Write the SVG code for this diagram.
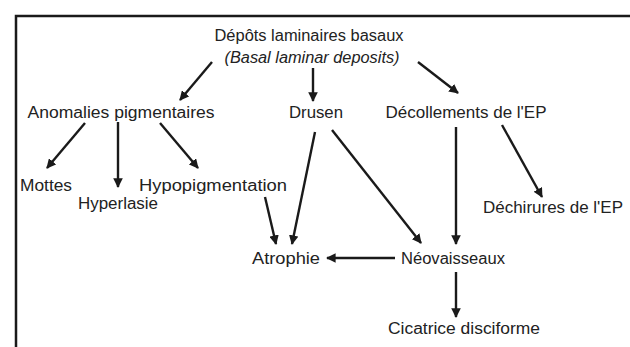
<svg xmlns="http://www.w3.org/2000/svg" width="630" height="347" viewBox="0 0 630 347">
<style>
text{font-family:"Liberation Sans",Arial,sans-serif;font-size:16px;fill:#222;text-anchor:middle}
.it{font-style:italic}
.c line{stroke:#1a1a1a;stroke-width:2.4;marker-end:url(#ah)}
</style>
<defs>
<marker id="ah" viewBox="0 0 10 10" refX="9" refY="5" markerWidth="4" markerHeight="4" orient="auto" markerUnits="strokeWidth">
<path d="M0,0 L10,5 L0,10 z" fill="#1a1a1a"/>
</marker>
</defs>
<rect width="630" height="347" fill="#fff"/>
<path d="M16,347 V16 H630" fill="none" stroke="#1a1a1a" stroke-width="2.5"/>
<g id="depots"><text x="309" y="41" textLength="189" lengthAdjust="spacingAndGlyphs">Dépôts laminaires basaux</text><text class="it" x="312" y="63" textLength="175" lengthAdjust="spacingAndGlyphs">(Basal laminar deposits)</text></g>
<g id="anomalies"><text x="121" y="118" textLength="187" lengthAdjust="spacingAndGlyphs">Anomalies pigmentaires</text></g>
<g id="drusen"><text x="316" y="118" textLength="54" lengthAdjust="spacingAndGlyphs">Drusen</text></g>
<g id="decollements"><text x="466" y="118" textLength="161" lengthAdjust="spacingAndGlyphs">Décollements de l'EP</text></g>
<g id="mottes"><text x="46" y="191" textLength="52" lengthAdjust="spacingAndGlyphs">Mottes</text></g>
<g id="hyperlasie"><text x="118" y="209" textLength="80" lengthAdjust="spacingAndGlyphs">Hyperlasie</text></g>
<g id="hypopigmentation"><text x="213" y="191" textLength="148" lengthAdjust="spacingAndGlyphs">Hypopigmentation</text></g>
<g id="dechirures"><text x="553" y="213" textLength="140" lengthAdjust="spacingAndGlyphs">Déchirures de l'EP</text></g>
<g id="atrophie"><text x="286" y="264" textLength="68" lengthAdjust="spacingAndGlyphs">Atrophie</text></g>
<g id="neovaisseaux"><text x="453" y="264" textLength="104" lengthAdjust="spacingAndGlyphs">Néovaisseaux</text></g>
<g id="cicatrice"><text x="464" y="334" textLength="152" lengthAdjust="spacingAndGlyphs">Cicatrice disciforme</text></g>
<g class="c" id="connectors">
<line x1="212" y1="62" x2="180" y2="100"/>
<line x1="313" y1="68" x2="313" y2="101"/>
<line x1="418" y1="62" x2="458" y2="93"/>
<line x1="85" y1="123" x2="47" y2="168"/>
<line x1="118" y1="122" x2="118" y2="187"/>
<line x1="160" y1="123" x2="198" y2="168"/>
<line x1="315" y1="132" x2="292" y2="244"/>
<line x1="265" y1="197" x2="276" y2="244"/>
<line x1="332" y1="130" x2="421" y2="243"/>
<line x1="456" y1="127" x2="456" y2="244"/>
<line x1="502" y1="125" x2="542" y2="197"/>
<line x1="395" y1="258" x2="327" y2="258"/>
<line x1="456" y1="272" x2="456" y2="317"/>
</g>
</svg>
